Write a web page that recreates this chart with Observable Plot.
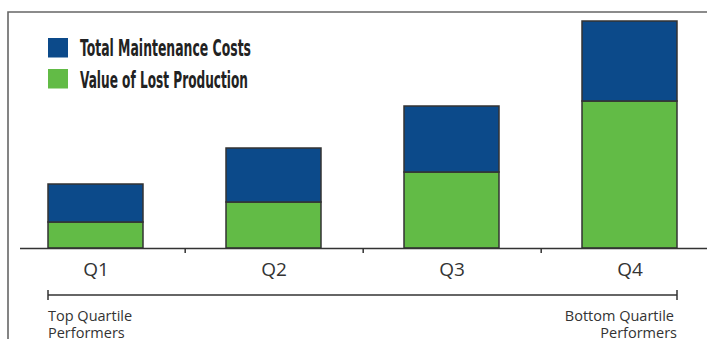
<!DOCTYPE html>
<html>
<head>
<meta charset="utf-8">
<script src="https://cdn.jsdelivr.net/npm/d3@7"></script>
<script src="https://cdn.jsdelivr.net/npm/@observablehq/plot@0.6"></script>
<style>
  html, body { margin: 0; padding: 0; background: #fff; }
  #chart { position: relative; width: 707px; height: 339px; overflow: hidden; }
</style>
</head>
<body>
<div id="chart"></div>
<script>
const categories = ["Q1", "Q2", "Q3", "Q4"];
const lostProduction = [26, 46, 76, 147];
const maintenanceCosts = [38, 54, 66, 80];
const seriesNames = ["Value of Lost Production", "Total Maintenance Costs"];
const seriesColors = ["#62bb46", "#0c4a8a"];
const legendOrder = ["Total Maintenance Costs", "Value of Lost Production"];
const bracketLabels = [["Top Quartile", "Performers"], ["Bottom Quartile", "Performers"]];
const bracketLevel = -47;

const data = [];
categories.forEach((q, i) => {
  data.push({q, series: seriesNames[0], value: lostProduction[i]});
  data.push({q, series: seriesNames[1], value: maintenanceCosts[i]});
});

const xRange = [5.25, 718.75];
const step = (xRange[1] - xRange[0]) / categories.length;

const chart = Plot.plot({
  width: 707,
  height: 339,
  marginLeft: 20,
  marginRight: 0,
  marginTop: 0,
  marginBottom: 0,
  style: {background: "#fff", overflow: "visible"},
  x: {domain: categories, range: xRange, paddingInner: 0.468, paddingOuter: 0.234, axis: null, label: null},
  y: {domain: [0, 227], range: [248, 21], axis: null},
  color: {domain: seriesNames, range: seriesColors},
  marks: [
    Plot.barY(data, Plot.stackY({x: "q", y: "value", fill: "series", stroke: "#333", strokeWidth: 1.5, order: null})),
    Plot.ruleY([0], {stroke: "#333", strokeWidth: 1.5}),
    Plot.axisX({ticks: categories.slice(0, 3), tickSize: 5, text: null, label: null, dx: step / 2, stroke: "#333", strokeWidth: 1.5, y: 0}),
    Plot.text(categories, {x: d => d, y: 0, dy: 21, text: d => d, fontSize: 19, fontFamily: "Open Sans", fill: "#333"})
  ]
});

document.getElementById("chart").appendChild(chart);

const svg = d3.select(chart);
const xs = chart.scale("x");
const ys = chart.scale("y");
const bw = xs.bandwidth;
const left = xs.apply(categories[0]);
const right = xs.apply(categories[categories.length - 1]) + bw;
const by = ys.apply(bracketLevel);

// frame
svg.append("path").attr("d", `M8,339V12H707`).attr("fill", "none").attr("stroke", "#666").attr("stroke-width", 1.6);

// bracket
const g = svg.append("g").attr("stroke", "#333").attr("stroke-width", 1.5);
g.append("line").attr("x1", left).attr("x2", right).attr("y1", by).attr("y2", by);
g.append("line").attr("x1", left).attr("x2", left).attr("y1", by - 5).attr("y2", by + 5);
g.append("line").attr("x1", right).attr("x2", right).attr("y1", by - 5).attr("y2", by + 5);

const lbl = svg.append("g").attr("font-family", "Open Sans").attr("font-size", 14.5).attr("fill", "#333");
bracketLabels[0].forEach((t, i) => lbl.append("text").attr("x", left).attr("y", by + 26 + i * 16.5).attr("text-anchor", "start").text(t));
bracketLabels[1].forEach((t, i) => lbl.append("text").attr("x", right - (i === 0 ? 3 : 0)).attr("y", by + 26 + i * 16.5).attr("text-anchor", "end").text(t));

// legend
const legendWidths = [171, 168];
const leg = svg.append("g");
legendOrder.forEach((name, i) => {
  const c = seriesColors[seriesNames.indexOf(name)];
  leg.append("rect").attr("x", 48).attr("y", 38 + i * 31).attr("width", 20).attr("height", 19.5).attr("fill", c);
  leg.append("text").attr("x", 80).attr("y", 56 + i * 31.5).attr("text-anchor", "start")
    .attr("font-family", "Liberation Sans Narrow, DejaVu Sans Condensed, sans-serif")
    .attr("font-weight", "bold").attr("font-size", 23).attr("fill", "#222")
    .attr("textLength", legendWidths[i]).attr("lengthAdjust", "spacingAndGlyphs")
    .text(name);
});
</script>
</body>
</html>
